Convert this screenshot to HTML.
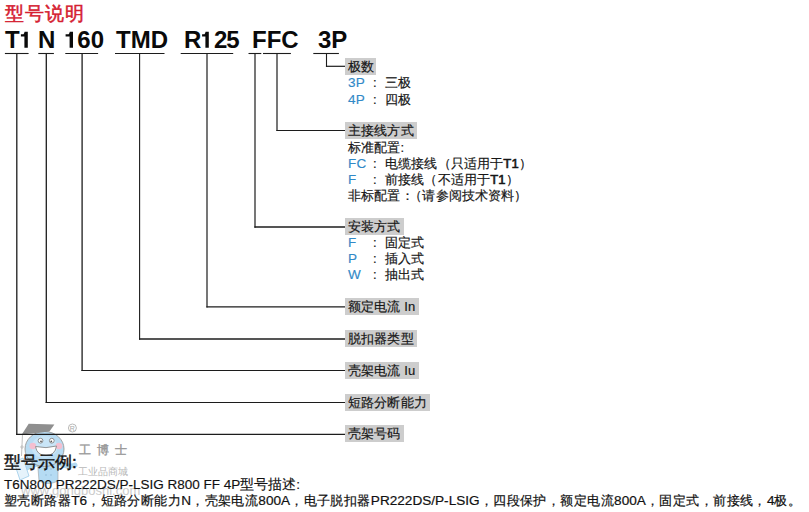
<!DOCTYPE html>
<html><head><meta charset="utf-8">
<style>
html,body{margin:0;padding:0;background:#fff;}
body{width:809px;height:512px;position:relative;overflow:hidden;font-family:"Liberation Sans",sans-serif;color:#111;}
.a{position:absolute;white-space:nowrap;}
.title{left:5px;top:1.5px;font-size:19px;letter-spacing:1px;line-height:24px;color:#d52030;-webkit-text-stroke:0.5px #d52030;}
.code{top:26px;font-size:24px;line-height:28px;font-weight:bold;color:#0a0a0a;}
.lab{position:absolute;left:345px;height:17px;background:#cdcdcd;font-size:13px;line-height:17px;padding:0 3px;color:#161616;white-space:nowrap;letter-spacing:0.15px;-webkit-text-stroke:0.18px #161616;}
.t{position:absolute;left:348px;font-size:13px;line-height:16px;white-space:nowrap;color:#161616;letter-spacing:0.15px;-webkit-text-stroke:0.18px #161616;}
.t .b{-webkit-text-stroke:0.15px #3189c7;}
.b{color:#3189c7;font-size:13.5px;}
.c{position:absolute;left:25px;}
.d{position:absolute;left:37px;}
.wm{position:absolute;left:0;top:0;}
.L{font-size:13.6px;letter-spacing:0;}
.tb{font-weight:normal;-webkit-text-stroke:0.6px #161616;}
</style></head><body>
<svg class="wm" width="809" height="512" viewBox="0 0 809 512">
<!-- tassel -->
<path d="M22.5 434 L21.5 456" stroke="#b0b0b0" stroke-width="0.8" fill="none"/>
<circle cx="22" cy="447" r="1.2" fill="none" stroke="#b0b0b0" stroke-width="0.7"/>
<!-- body -->
<path d="M40 463 Q30 466 22 470" stroke="#b3d9f1" stroke-width="5" stroke-linecap="round" fill="none"/>
<path d="M57 462 Q66 468 75 465" stroke="#b3d9f1" stroke-width="5" stroke-linecap="round" fill="none"/>
<path d="M37 456 L39 481 Q48 486 58 481 L58 456 Z" fill="#b5dbf3" stroke="#a0a0a0" stroke-width="0.6"/>
<path d="M14 462 L23 458 L29 476 L20 480 Z" fill="#e6f3fb" stroke="#9ccbea" stroke-width="0.8"/>
<path d="M46 468 v2 M51 468 v2 M46 474 v2 M51 474 v2" stroke="#8fb9d6" stroke-width="0.8"/>
<!-- face -->
<ellipse cx="44.5" cy="449" rx="19.5" ry="17.5" fill="#b9dcf3" stroke="#9a9a9a" stroke-width="0.9"/>
<ellipse cx="44.5" cy="447" rx="13" ry="11" fill="#c9e5f7"/>
<circle cx="32.8" cy="446" r="3.3" fill="#f4bfd0"/>
<circle cx="59" cy="446" r="3.3" fill="#f4bfd0"/>
<circle cx="40.5" cy="440.7" r="2.4" fill="#fff" stroke="#777" stroke-width="0.8"/>
<circle cx="51.8" cy="440.7" r="2.4" fill="#fff" stroke="#777" stroke-width="0.8"/>
<circle cx="41" cy="441.3" r="0.9" fill="#555"/>
<circle cx="51.3" cy="441.3" r="0.9" fill="#555"/>
<path d="M35.5 446.5 Q46 449 56.5 446 Q55 455.5 46 455.5 Q37 455.5 35.5 446.5 Z" fill="#fff" stroke="#8a8a8a" stroke-width="0.9"/>
<!-- hat -->
<path d="M28.7 423.8 L54.4 424.6 L49.4 431.6 L21.8 434.6 Z" fill="#8f8f8f"/>
<!-- registered -->
<circle cx="72.4" cy="428" r="4" fill="none" stroke="#a8a8a8" stroke-width="0.8"/>
<text x="72.4" y="430.6" font-size="7" text-anchor="middle" fill="#a8a8a8" font-family="Liberation Sans">R</text>
</svg>
<div class="a" style="left:79px;top:443px;font-size:12px;line-height:14px;color:#999;letter-spacing:6px;-webkit-text-stroke:0.4px #999">工博士</div>
<div class="a" style="left:78px;top:466px;font-size:10px;line-height:12px;color:#b8b8b8;">工业品商城</div>
<div class="a" style="left:21px;top:483px;font-size:13px;line-height:16px;color:#cbcbcb;">www.gongboshi.com</div>
<div class="a title">型号说明</div>
<div class="a code" style="left:5px">T</div>
<div class="a code" style="left:38px">N</div>
<div class="a code" style="left:77.3px">60</div>
<div class="a code" style="left:116px">TMD</div>
<div class="a code" style="left:184.1px">R</div>
<div class="a code" style="left:213.9px;letter-spacing:-1px">25</div>
<div class="a code" style="left:252px">FFC</div>
<div class="a code" style="left:318px">3P</div>
<svg class="a" style="left:0;top:0" width="809" height="512" viewBox="0 0 809 512">
<g><path d="M20.9 34.3 L23.5 34.3 Q24.2 33.6 24.6 31.8 L27.8 31.8 L27.8 47.8 L24.4 47.8 L24.4 36.5 L20.9 36.5 Z" fill="#0a0a0a"/><path d="M65.6 34.3 L68.7 34.3 Q69.4 33.6 69.8 31.8 L73.0 31.8 L73.0 47.8 L69.6 47.8 L69.6 36.5 L65.6 36.5 Z" fill="#0a0a0a"/><path d="M202.1 34.3 L204.5 34.3 Q205.2 33.6 205.6 31.8 L208.8 31.8 L208.8 47.8 L205.4 47.8 L205.4 36.5 L202.1 36.5 Z" fill="#0a0a0a"/></g>
<g stroke="#1c1c1c" fill="none">
<line x1="4.9" y1="53.5" x2="28.6" y2="53.5" stroke-width="1.1"/>
<line x1="38.3" y1="53.5" x2="53.9" y2="53.5" stroke-width="1.1"/>
<line x1="65.3" y1="53.5" x2="98.1" y2="53.5" stroke-width="1.1"/>
<line x1="115" y1="53.5" x2="164.5" y2="53.5" stroke-width="1.1"/>
<line x1="180.7" y1="53.5" x2="233.2" y2="53.5" stroke-width="1.1"/>
<line x1="248.5" y1="53.5" x2="261.3" y2="53.5" stroke-width="1.1"/>
<line x1="263" y1="53.5" x2="290.9" y2="53.5" stroke-width="1.1"/>
<line x1="313.3" y1="53.5" x2="338.9" y2="53.5" stroke-width="1.1"/>
<line x1="16.8" y1="53.5" x2="16.8" y2="435.04999999999995" stroke-width="1.3"/>
<line x1="16.150000000000002" y1="434.4" x2="345" y2="434.4" stroke-width="1.3"/>
<line x1="46.3" y1="53.5" x2="46.3" y2="403.1" stroke-width="1.3"/>
<line x1="45.65" y1="402.5" x2="345" y2="402.5" stroke-width="1.2"/>
<line x1="82.1" y1="53.5" x2="82.1" y2="371.1" stroke-width="1.3"/>
<line x1="81.44999999999999" y1="370.5" x2="345" y2="370.5" stroke-width="1.2"/>
<line x1="139.6" y1="53.5" x2="139.6" y2="339.7" stroke-width="1.1"/>
<line x1="139.04999999999998" y1="339.0" x2="345" y2="339.0" stroke-width="1.4"/>
<line x1="207.0" y1="53.5" x2="207.0" y2="307.45" stroke-width="1.2"/>
<line x1="206.4" y1="306.8" x2="345" y2="306.8" stroke-width="1.3"/>
<line x1="255.0" y1="53.5" x2="255.0" y2="227.75" stroke-width="1.2"/>
<line x1="254.4" y1="227.0" x2="345" y2="227.0" stroke-width="1.5"/>
<line x1="277.0" y1="53.5" x2="277.0" y2="131.1" stroke-width="1.2"/>
<line x1="276.4" y1="130.5" x2="345" y2="130.5" stroke-width="1.2"/>
<line x1="326.5" y1="53.5" x2="326.5" y2="66.89999999999999" stroke-width="1.1"/>
<line x1="325.95" y1="66.3" x2="345" y2="66.3" stroke-width="1.2"/>
</g></svg>
<div class="lab" style="top:58px;padding-right:2px">极数</div>
<div class="t" style="top:75px"><span class="b">3P</span><span class="c">:</span><span class="d">三极</span></div>
<div class="t" style="top:92px"><span class="b">4P</span><span class="c">:</span><span class="d">四极</span></div>

<div class="lab" style="top:122px">主接线方式</div>
<div class="t" style="top:140px">标准配置:</div>
<div class="t" style="top:156px"><span class="b">FC</span><span class="c">:</span><span class="d">电缆接线（只适用于<b class="tb">T1</b>）</span></div>
<div class="t" style="top:172px"><span class="b">F</span><span class="c">:</span><span class="d">前接线（不适用于<b class="tb">T1</b>）</span></div>
<div class="t" style="top:188px">非标配置<span style="letter-spacing:-4.4px">：</span>（请参阅技术资料）</div>

<div class="lab" style="top:218px">安装方式</div>
<div class="t" style="top:235px"><span class="b">F</span><span class="c">:</span><span class="d">固定式</span></div>
<div class="t" style="top:251px"><span class="b">P</span><span class="c">:</span><span class="d">插入式</span></div>
<div class="t" style="top:267px"><span class="b">W</span><span class="c">:</span><span class="d">抽出式</span></div>

<div class="lab" style="top:298px">额定电流 In</div>
<div class="lab" style="top:330px">脱扣器类型</div>
<div class="lab" style="top:362px">壳架电流 Iu</div>
<div class="lab" style="top:394px">短路分断能力</div>
<div class="lab" style="top:425px">壳架号码</div>

<div class="a" style="left:4px;top:453px;font-size:17px;line-height:20px;color:#111;-webkit-text-stroke:0.4px #111">型号示例:</div>
<div class="a" style="left:4px;top:477px;font-size:13.5px;line-height:16px;color:#111;-webkit-text-stroke:0.15px #111">T6N800 PR222DS/P-LSIG R800 FF 4P型号描述:</div>
<div class="a" style="left:4px;top:493px;font-size:13.25px;letter-spacing:0.45px;line-height:16px;color:#111;-webkit-text-stroke:0.2px #111">塑壳断路器<span class="L">T6</span>，短路分断能力<span class="L">N</span>，壳架电流<span class="L">800A</span>，电子脱扣器<span class="L">PR222DS/P-LSIG</span>，四段保护，额定电流<span class="L">800A</span>，固定式，前接线，<span class="L">4</span>极。</div>
</body></html>
